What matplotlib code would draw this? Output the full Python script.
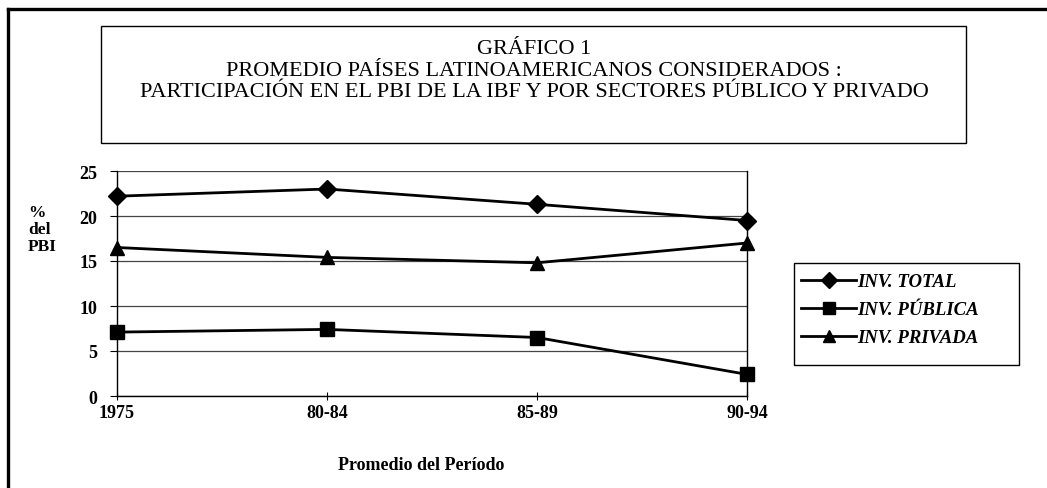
import matplotlib
matplotlib.use("Agg")
import matplotlib.pyplot as plt
from matplotlib.patches import Rectangle
from matplotlib.lines import Line2D

periods = ["1975", "80-84", "85-89", "90-94"]
inv_total = [22.2, 23.0, 21.3, 19.5]
inv_publica = [7.1, 7.4, 6.5, 2.4]
inv_privada = [16.5, 15.4, 14.8, 17.0]
series_labels = ["INV. TOTAL", "INV. PÚBLICA", "INV. PRIVADA"]
yticks = [0, 5, 10, 15, 20, 25]
title_lines = ["GRÁFICO 1",
               "PROMEDIO PAÍSES LATINOAMERICANOS CONSIDERADOS :",
               "PARTICIPACIÓN EN EL PBI DE LA IBF Y POR SECTORES PÚBLICO Y PRIVADO"]

plt.rcParams['font.family'] = ['Liberation Serif', 'DejaVu Serif']

W, H = 1047, 489
fig = plt.figure(figsize=(W / 100, H / 100), dpi=100)

def fx(px):
    return px / W

def fy(py):
    return 1 - py / H

ax = fig.add_axes([fx(117), fy(397), fx(747) - fx(117), fy(172) - fy(397)])
x = list(range(len(periods)))
kw = dict(color='black', lw=2.0, markeredgecolor='black', markerfacecolor='black', clip_on=False)
ax.plot(x, inv_total, marker='D', markersize=9, label=series_labels[0], **kw)
ax.plot(x, inv_publica, marker='s', markersize=10, label=series_labels[1], **kw)
ax.plot(x, inv_privada, marker='^', markersize=10, label=series_labels[2], **kw)

ax.set_xlim(0, len(periods) - 1)
ax.set_ylim(0, 25)
ax.set_yticks(yticks)
ax.set_xticks(x)
ax.set_xticklabels(periods, fontsize=13, fontweight='bold')
ax.set_yticklabels([str(v) for v in yticks], fontsize=13, fontweight='bold')
ax.yaxis.grid(True, color='#444444', lw=0.9)
ax.set_axisbelow(True)
for s in ['left', 'bottom', 'right']:
    ax.spines[s].set_linewidth(1.0)
ax.spines['top'].set_visible(False)
ax.tick_params(axis='y', length=5, width=0.8, pad=9)
ax.tick_params(axis='x', direction='inout', length=6, width=0.8, pad=3)

# y label
fig.text(fx(28), fy(230), "%\ndel\nPBI", fontsize=12.5, fontweight='bold',
         ha='left', va='center', multialignment='left', linespacing=1.05)
# x label
fig.text(fx(421), fy(466), "Promedio del Período", fontsize=13, fontweight='bold',
         ha='center', va='center')

# Title box
fig.add_artist(Rectangle((fx(101), fy(144)), fx(966) - fx(101), fy(27) - fy(144),
                         transform=fig.transFigure, fill=False, lw=1.0, ec='black'))
fig.text(fx(534), fy(71), "\n".join(title_lines), fontsize=16, ha='center', va='center',
         linespacing=1.2)

# Outer frame (left & top)
fig.add_artist(Line2D([fx(8), fx(8)], [0, fy(10)], transform=fig.transFigure, color='black', lw=2.4))
fig.add_artist(Line2D([fx(8), 1], [fy(10), fy(10)], transform=fig.transFigure, color='black', lw=2.4))

# Legend box and legend
fig.add_artist(Rectangle((fx(794), fy(366)), fx(1019) - fx(794), fy(264) - fy(366),
                         transform=fig.transFigure, fill=False, lw=1.0, ec='black'))
leg = ax.legend(loc='upper left', bbox_to_anchor=(fx(801), fy(274)),
                bbox_transform=fig.transFigure,
                prop={'family': 'Liberation Serif', 'weight': 'bold', 'style': 'italic', 'size': 13.5},
                frameon=False, handlelength=2.95, handletextpad=0.05, labelspacing=0.58,
                borderaxespad=0, borderpad=0, markerscale=0.9)

fig.savefig("out.png", dpi=100)
